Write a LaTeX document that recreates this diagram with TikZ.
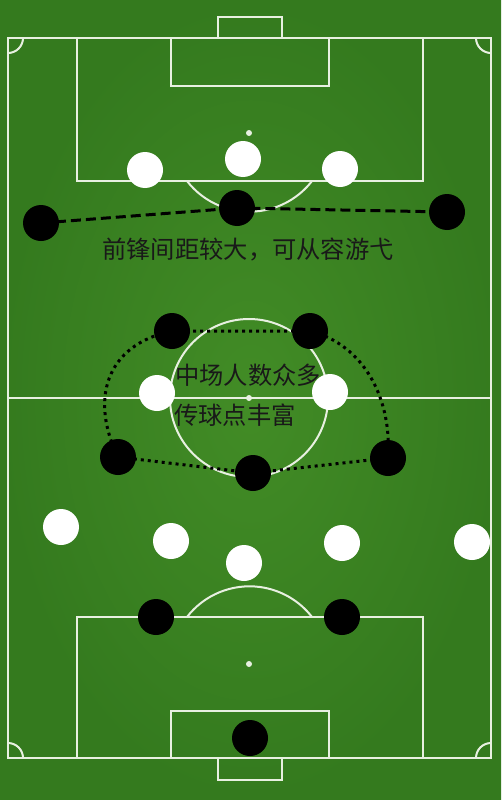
\documentclass[tikz,border=0pt]{standalone}
\usepackage{fontspec}
\newfontfamily\cjk{Noto Sans CJK SC}
\begin{document}
\begin{tikzpicture}[x=1pt,y=-1pt,
  pitchline/.style={draw=linecol,line width=2pt},
  whiteplayer/.style={circle,fill=white,minimum size=36pt,inner sep=0pt},
  blackplayer/.style={circle,fill=black,minimum size=36pt,inner sep=0pt},
  spot/.style={circle,fill=linecol,minimum size=6pt,inner sep=0pt},
  label/.style={font=\cjk\fontsize{24.3}{30}\selectfont,text=black!90,inner sep=0pt},
  fwdline/.style={draw=black,line width=3pt,dash pattern=on 10pt off 5pt},
  midline/.style={draw=black,line width=3pt,dash pattern=on 3pt off 4pt}]
\definecolor{grass}{RGB}{66,140,38}
\definecolor{grassdark}{RGB}{52,122,30}
\definecolor{linecol}{RGB}{232,240,225}
\useasboundingbox (0,0) rectangle (501,800);
\shade[inner color=grass, outer color=grassdark] (0,0) rectangle (501,800);
% pitch
\draw[pitchline] (8,38) rectangle (491,758);
\draw[pitchline] (8,398) -- (491,398);
\draw[pitchline] (249,398) circle (79);
\node[spot] (cs) at (249,398) {};
% top end
\draw[pitchline] (77,38) rectangle (423,181);
\draw[pitchline] (171,38) rectangle (329,86);
\draw[pitchline] (218,38) -- (218,17) -- (282,17) -- (282,38);
\node[spot] (ps1) at (249,133) {};
\draw[pitchline] (187,181) arc[start angle=142.3,end angle=37.7,radius=79];
\draw[pitchline] (8,53) arc[start angle=90,end angle=0,radius=15];
\draw[pitchline] (476,38) arc[start angle=180,end angle=90,radius=15];
% bottom end
\draw[pitchline] (77,617) rectangle (423,758);
\draw[pitchline] (171,711) rectangle (329,758);
\draw[pitchline] (218,758) -- (218,780) -- (282,780) -- (282,758);
\node[spot] (ps2) at (249,664) {};
\draw[pitchline] (187,617) arc[start angle=-142.3,end angle=-37.7,radius=79];
\draw[pitchline] (23,758) arc[start angle=0,end angle=-90,radius=15];
\draw[pitchline] (491,743) arc[start angle=-90,end angle=-180,radius=15];
% players: top whites
\node[whiteplayer] (w1) at (145,170) {};
\node[whiteplayer] (w2) at (243,159) {};
\node[whiteplayer] (w3) at (340,169) {};
% forwards
\coordinate (f1c) at (41,223);
\coordinate (f2c) at (237,208);
\coordinate (f3c) at (447,212);
\draw[fwdline] (f1c) -- (f2c) -- (f3c);
\node[blackplayer] (f1) at (f1c) {};
\node[blackplayer] (f2) at (f2c) {};
\node[blackplayer] (f3) at (f3c) {};
\node[label] (t1) at (248,250) {前锋间距较大，可从容游弋};
% midfield
\coordinate (m1c) at (172,331);
\coordinate (m2c) at (310,331);
\coordinate (m3c) at (388,458);
\coordinate (m4c) at (253,473);
\coordinate (m5c) at (118,457);
\draw[midline] (m1c) -- (m2c) .. controls (365,345) and (392,400) .. (m3c) -- (m4c) -- (m5c) .. controls (90,400) and (105,345) .. (m1c);
\node[blackplayer] (m1) at (m1c) {};
\node[blackplayer] (m2) at (m2c) {};
\node[blackplayer] (m3) at (m3c) {};
\node[blackplayer] (m4) at (m4c) {};
\node[blackplayer] (m5) at (m5c) {};
\node[whiteplayer] (w4) at (157,393) {};
\node[whiteplayer] (w5) at (330,392) {};
\node[label,anchor=west] (t2) at (175,375) {中场人数众多};
\node[label,anchor=west] (t3) at (174,415) {传球点丰富};
% bottom whites
\node[whiteplayer] (w6) at (61,527) {};
\node[whiteplayer] (w7) at (171,541) {};
\node[whiteplayer] (w8) at (244,563) {};
\node[whiteplayer] (w9) at (342,543) {};
\node[whiteplayer] (w10) at (472,542) {};
% defenders and keeper
\node[blackplayer] (d1) at (156,617) {};
\node[blackplayer] (d2) at (342,617) {};
\node[blackplayer] (gk) at (250,738) {};
\end{tikzpicture}
\end{document}
